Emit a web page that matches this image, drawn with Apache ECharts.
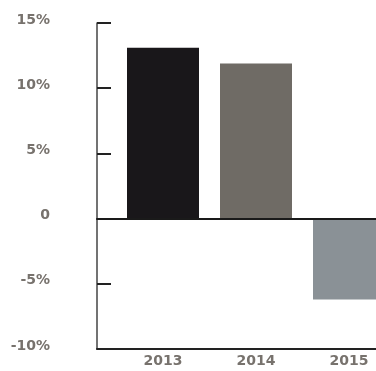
<!DOCTYPE html>
<html><head><meta charset="utf-8">
<script src="https://cdn.jsdelivr.net/npm/echarts@6/dist/echarts.min.js"></script>
<style>html,body{margin:0;padding:0;background:#fff}#c{width:376px;height:371px}</style>
</head><body><div id="c"></div>
<script>
const categories = ['2013', '2014', '2015'];
const returnsPct = [13.1, 11.9, -6.2];
const barColors = ['#19171a', '#6f6b65', '#8a9196'];
const yTickLabels = {'-10': '-10%', '-5': '-5%', '0': '0', '5': '5%', '10': '10%', '15': '15%'};

const labelFont = {fontFamily: 'DejaVu Sans', fontWeight: 'bold', fontSize: 14, color: '#77726d'};

const chart = echarts.init(document.getElementById('c'), null, {renderer: 'canvas'});
chart.setOption({
  animation: false,
  grid: [
    {left: 116.5, width: 279, top: 23, bottom: 22, outerBoundsMode: 'none', containLabel: false},
    {left: 97, right: 0, top: 23, bottom: 22, outerBoundsMode: 'none', containLabel: false}
  ],
  xAxis: [
    {type: 'category', gridIndex: 0, data: categories, position: 'bottom',
      axisLine: {show: false, onZero: false}, axisTick: {show: false},
      axisLabel: Object.assign({margin: 5}, labelFont)},
    {type: 'value', gridIndex: 1, min: 0, max: 1, position: 'bottom',
      axisLine: {show: true, onZero: false, lineStyle: {color: '#222', width: 2}},
      axisTick: {show: false}, axisLabel: {show: false}, splitLine: {show: false}},
    {type: 'value', gridIndex: 1, min: 0, max: 1, position: 'top', z: 5,
      axisLine: {show: true, onZero: true, lineStyle: {color: '#1a1a1a', width: 2}},
      axisTick: {show: false}, axisLabel: {show: false}, splitLine: {show: false}}
  ],
  yAxis: [
    {type: 'value', gridIndex: 0, min: -10, max: 15, interval: 5, show: false},
    {type: 'value', gridIndex: 1, min: -10, max: 15, interval: 5,
      axisLine: {show: true, onZero: false, lineStyle: {color: '#444', width: 1.5}},
      axisTick: {show: true, inside: true, length: 14, lineStyle: {color: '#222', width: 2}},
      splitLine: {show: false},
      axisLabel: Object.assign({margin: 47, verticalAlign: 'bottom', lineHeight: 6,
        formatter: v => yTickLabels[String(v)]}, labelFont)}
  ],
  series: [{
    type: 'bar', xAxisIndex: 0, yAxisIndex: 0, barWidth: 72,
    data: returnsPct.map((v, i) => ({value: v, itemStyle: {color: barColors[i]}}))
  }]
});
</script></body></html>
